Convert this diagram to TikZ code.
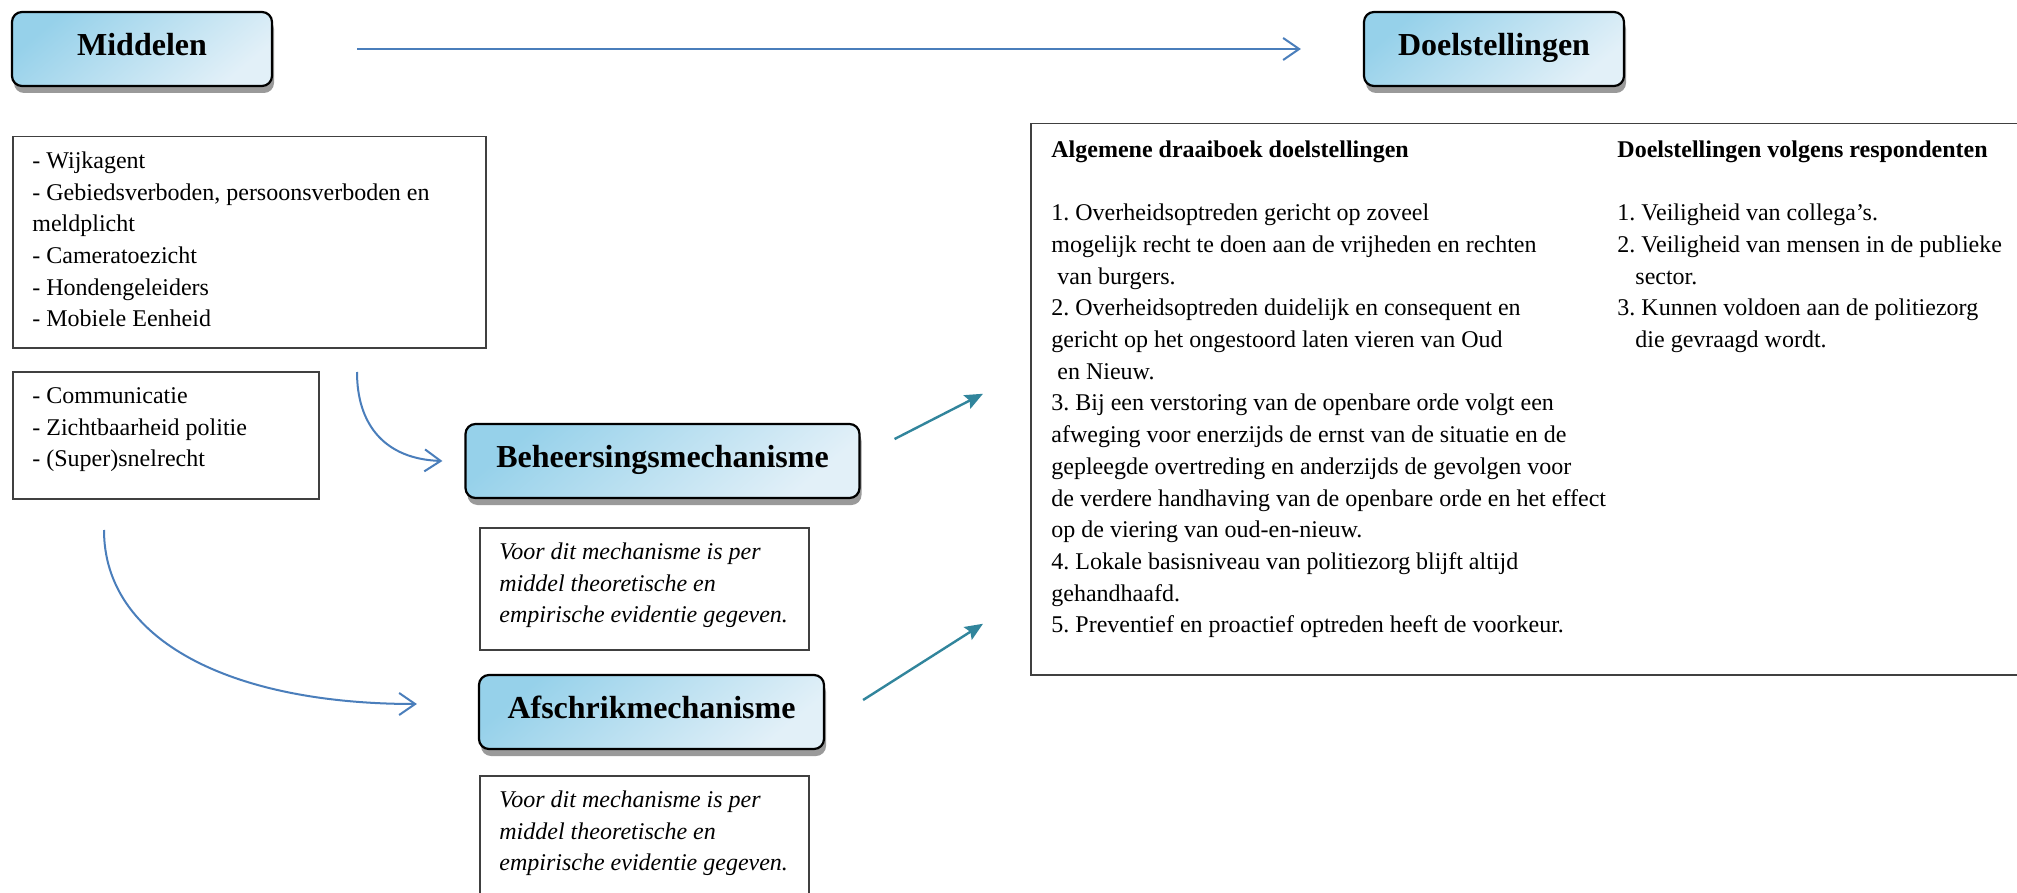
\documentclass[tikz,border=0pt]{standalone}
\usepackage{fontspec}
\setmainfont{Liberation Serif}
\usetikzlibrary{arrows.meta,shadows}
\definecolor{arrblue}{HTML}{4A7EBB}
\definecolor{arrteal}{HTML}{31859C}
\definecolor{gradA}{HTML}{96D1EA}
\definecolor{gradB}{HTML}{E2F0F8}
\definecolor{shadowgray}{HTML}{9A9A9A}
\definecolor{boxline}{HTML}{404040}
\frenchspacing
\begin{document}
\begin{tikzpicture}[x=0.5pt,y=-0.5pt,
  titlebox/.style={draw=black, line width=1.1pt, rounded corners=5pt,
    top color=gradA, bottom color=gradB, shading angle=40,
    drop shadow={shadow xshift=1pt, shadow yshift=-3.5pt, fill=shadowgray, opacity=1},
    font=\fontsize{16}{19}\selectfont\bfseries, inner sep=0pt,
    text height=11pt, text depth=4.5pt},
  plainbox/.style={draw=boxline, line width=0.75pt, inner sep=0pt, anchor=north west},
  txt/.style={anchor=north west, inner sep=0pt, align=left, font=\fontsize{12}{15.85}\selectfont\frenchspacing},
  itxt/.style={anchor=north west, inner sep=0pt, align=left, font=\fontsize{12}{15.85}\selectfont\itshape\frenchspacing},
  bluearrow/.style={draw=arrblue, line width=1pt, -{Straight Barb[length=8pt,width=11pt]}},
  tealarrow/.style={draw=arrteal, line width=1.2pt, -{Stealth[length=9pt,width=7.5pt,inset=1.5pt]}}
]
\useasboundingbox (0,0) rectangle (2017,893);
\fill[white] (0,0) rectangle (2017,893);
\clip (0,0) rectangle (2017,893);

% title boxes
\node[titlebox, minimum width=130pt, minimum height=37pt] (mid) at (142,49) {Middelen};
\node[titlebox, minimum width=130pt, minimum height=37pt] (doel) at (1494,49) {Doelstellingen};
\node[titlebox, minimum width=197pt, minimum height=37pt] (beh) at (662.5,461) {Beheersingsmechanisme};
\node[titlebox, minimum width=172.5pt, minimum height=37pt] (afs) at (651.5,712) {Afschrikmechanisme};

% plain boxes
\node[plainbox, minimum width=236.5pt, minimum height=105.5pt] (b1) at (12,136) {};
\node[plainbox, minimum width=153pt, minimum height=63.5pt] (b2) at (12,371) {};
\node[plainbox, minimum width=164.5pt, minimum height=61pt] (ib1) at (479,527) {};
\node[plainbox, minimum width=164.5pt, minimum height=70pt] (ib2) at (479,775) {};
\node[plainbox, minimum width=505pt, minimum height=275.5pt] (goals) at (1030,123) {};

% texts
\node[txt] (t1) at (32,145.8) {\strut- Wijkagent\\
- Gebiedsverboden, persoonsverboden en\\
meldplicht\\
- Cameratoezicht\\
- Hondengeleiders\\
- Mobiele Eenheid};

\node[txt] (t2) at (32,380.8) {\strut- Communicatie\\
- Zichtbaarheid politie\\
- (Super)snelrecht};

\node[itxt] (it1) at (499,536.8) {\strut Voor dit mechanisme is per\\
middel theoretische en\\
empirische evidentie gegeven.};

\node[itxt] (it2) at (499,784.8) {\strut Voor dit mechanisme is per\\
middel theoretische en\\
empirische evidentie gegeven.};

\node[txt] (tl) at (1051,134.8) {\strut\textbf{Algemene draaiboek doelstellingen}\\[15.85pt]
1. Overheidsoptreden gericht op zoveel\\
mogelijk recht te doen aan de vrijheden en rechten\\
\hspace*{3pt}van burgers.\\
2. Overheidsoptreden duidelijk en consequent en\\
gericht op het ongestoord laten vieren van Oud\\
\hspace*{3pt}en Nieuw.\\
3. Bij een verstoring van de openbare orde volgt een\\
afweging voor enerzijds de ernst van de situatie en de\\
gepleegde overtreding en anderzijds de gevolgen voor\\
de verdere handhaving van de openbare orde en het effect\\
op de viering van oud-en-nieuw.\\
4. Lokale basisniveau van politiezorg blijft altijd\\
gehandhaafd.\\
5. Preventief en proactief optreden heeft de voorkeur.};

\node[txt] (tr) at (1617,134.8) {\strut\textbf{Doelstellingen volgens respondenten}\\[15.85pt]
1. Veiligheid van collega’s.\\
2. Veiligheid van mensen in de publieke\\
\hspace*{9pt}sector.\\
3. Kunnen voldoen aan de politiezorg\\
\hspace*{9pt}die gevraagd wordt.};

% connectors
\draw[bluearrow, shorten <=42pt, shorten >=31pt] (mid) -- (doel);
\coordinate (c1) at (357,372);
\draw[bluearrow] (c1) .. controls (357,425) and (385,459) .. ([xshift=-11pt]beh.west);
\coordinate (c2) at (104,530);
\draw[bluearrow] (c2) .. controls (104,640) and (230,704) .. ([shift={(-30.5pt,4pt)}]afs.west);
\draw[tealarrow] ([shift={(17pt,11pt)}]beh.east) -- ([shift={(-23.5pt,2.75pt)}]goals.west);
\draw[tealarrow] ([shift={(19pt,6pt)}]afs.east) -- ([shift={(-23.5pt,-112.25pt)}]goals.west);
\end{tikzpicture}
\end{document}
